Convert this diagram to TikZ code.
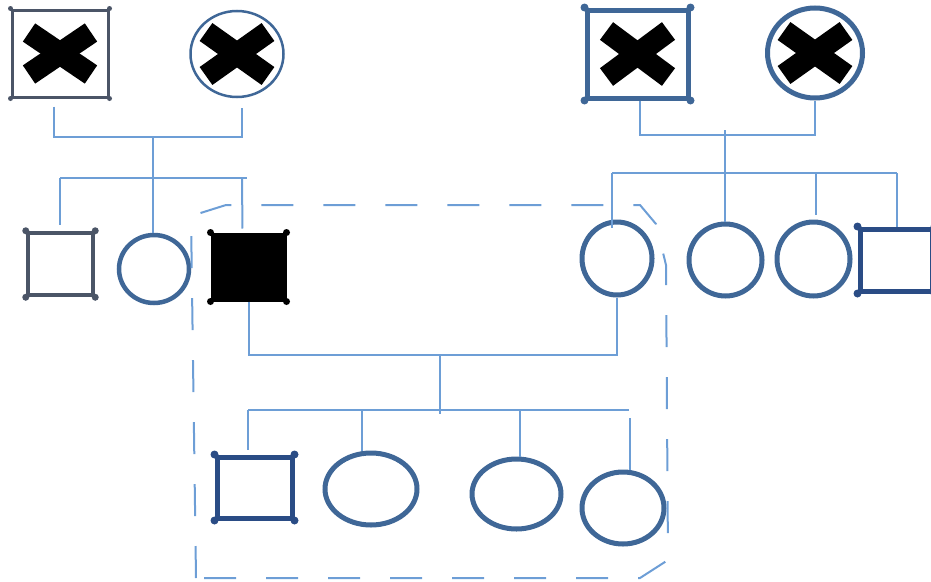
\documentclass[tikz,border=0pt]{standalone}
\usetikzlibrary{shapes.geometric,calc}
\definecolor{conn}{HTML}{6D9ED6}
\definecolor{sblue}{HTML}{3F6797}
\definecolor{dgray}{HTML}{4B5567}
\definecolor{dblue}{HTML}{2A4C85}
\tikzset{
  conn/.style={draw=conn, line width=2pt},
  sq/.style={rectangle, draw, inner sep=0pt},
  circ/.style={ellipse, draw=sblue, inner sep=0pt},
  xbar/.style={draw=black, line width=22pt, line cap=butt},
  bound/.style={draw=conn, line width=2pt, dash pattern=on 32pt off 30pt}
}
\begin{document}
\begin{tikzpicture}[x=1pt,y=-1pt]
\useasboundingbox (0,0) rectangle (931,581);
% generation I
\node[sq, draw=dgray, line width=3pt, minimum width=96pt, minimum height=87pt] (A) at (60,53.5) {};
\node[circ, line width=2.5pt, minimum width=93pt, minimum height=86pt] (B) at (237,54) {};
\node[sq, draw=sblue, line width=5pt, minimum width=101pt, minimum height=88pt] (C) at (637.5,54) {};
\node[circ, line width=5pt, minimum width=95pt, minimum height=90pt] (D) at (815,53) {};
% crosses
\draw[xbar] ($(A.center)+(-31,-21)$) -- ($(A.center)+(31,21)$);
\draw[xbar] ($(A.center)+(-31,21)$) -- ($(A.center)+(31,-21)$);
\draw[xbar] ($(B.center)+(-31,-22)$) -- ($(B.center)+(31,22)$);
\draw[xbar] ($(B.center)+(-31,22)$) -- ($(B.center)+(31,-22)$);
\draw[xbar] ($(C.center)+(-31,-23)$) -- ($(C.center)+(31,23)$);
\draw[xbar] ($(C.center)+(-31,23)$) -- ($(C.center)+(31,-23)$);
\draw[xbar] ($(D.center)+(-31,-22)$) -- ($(D.center)+(31,22)$);
\draw[xbar] ($(D.center)+(-31,22)$) -- ($(D.center)+(31,-22)$);
% generation II
\node[sq, draw=dgray, line width=4.5pt, minimum width=65pt, minimum height=62pt] (E) at (60.5,264) {};
\node[circ, line width=4.5pt, minimum width=70pt, minimum height=68pt] (F) at (154,269) {};
\node[sq, draw=black, fill=black, line width=3pt, minimum width=73pt, minimum height=66pt] (G) at (248.5,267) {};
\node[circ, line width=5pt, minimum width=70pt, minimum height=73pt] (H) at (617,258.5) {};
\node[circ, line width=5pt, minimum width=73pt, minimum height=72pt] (I) at (725.5,260) {};
\node[circ, line width=5pt, minimum width=73pt, minimum height=74pt] (J) at (813.5,259) {};
\node[sq, draw=dblue, line width=5pt, minimum width=72pt, minimum height=62pt] (K) at (896,260) {};
% generation III
\node[sq, draw=dblue, line width=5pt, minimum width=75pt, minimum height=61pt] (L) at (254.5,487.5) {};
\node[circ, line width=5pt, minimum width=92pt, minimum height=72pt] (M) at (371,489) {};
\node[circ, line width=5pt, minimum width=89pt, minimum height=70pt] (N) at (516.5,494) {};
\node[circ, line width=5pt, minimum width=82pt, minimum height=72pt] (O) at (623,508) {};
% corner knobs
\foreach \n/\c/\r in {A/dgray/2.5, C/sblue/4, E/dgray/3.5, G/black/3.5, K/dblue/4, L/dblue/4}{
  \foreach \a in {north west,north east,south west,south east}{
    \fill[\c] (\n.\a) circle (\r pt);
  }
}
% connectors: left family
\coordinate (ab) at (153,137);
\coordinate (s1l) at (60,178);
\coordinate (s1r) at (247,178);
\draw[conn, shorten <=8pt] ([xshift=-6pt]A.south) |- (ab);
\draw[conn, shorten >=10pt] (ab) -| ([xshift=5pt]B.south);
\draw[conn] (ab) -- (ab |- F.north);
\draw[conn] (s1l) -- (s1r);
\draw[conn, shorten >=6pt] (s1l) -- (s1l |- E.north);
\draw[conn, shorten >=4pt] ([xshift=-5pt]s1r) -- ([xshift=-6pt]G.north);
% connectors: right family
\coordinate (cd) at (725,135);
\coordinate (cdt) at (725,130);
\coordinate (s2l) at (612,173);
\coordinate (s2j) at (816,173);
\coordinate (s2r) at (897,173);
\draw[conn] ([xshift=2.5pt]C.south) |- (cd) -| (D.south);
\draw[conn] (cdt) -- (cdt |- I.north);
\draw[conn] (s2l) -- (s2r);
\draw[conn] (s2l) -- ([yshift=-8pt]s2l |- H.north);
\draw[conn, shorten >=5pt] (s2j) -- (s2j |- J.north);
\draw[conn] (s2r) -- (s2r |- K.north);
% connectors: marriage G--H and children
\coordinate (gh) at (440,355);
\coordinate (ghb) at (440,414);
\coordinate (s3l) at (248,410);
\coordinate (s3m) at (362,410);
\coordinate (s3n) at (520,410);
\coordinate (s3o) at (630,418);
\coordinate (s3r) at (629,410);
\draw[conn] (G.south) |- (gh) -| (H.south);
\draw[conn] (gh) -- (ghb);
\draw[conn] (s3l) -- (s3r);
\draw[conn, shorten >=5pt] (s3l) -- (s3l |- L.north);
\draw[conn] (s3m) -- (s3m |- M.north);
\draw[conn] (s3n) -- (s3n |- N.north);
\draw[conn] (s3o) -- (s3o |- O.north);
% dashed boundary
\draw[bound] (196,578) -- (191,216) -- (226,205) -- (640,205) -- (656,224) -- (666,265) -- (668,560) -- (640,578) -- cycle;
\end{tikzpicture}
\end{document}
